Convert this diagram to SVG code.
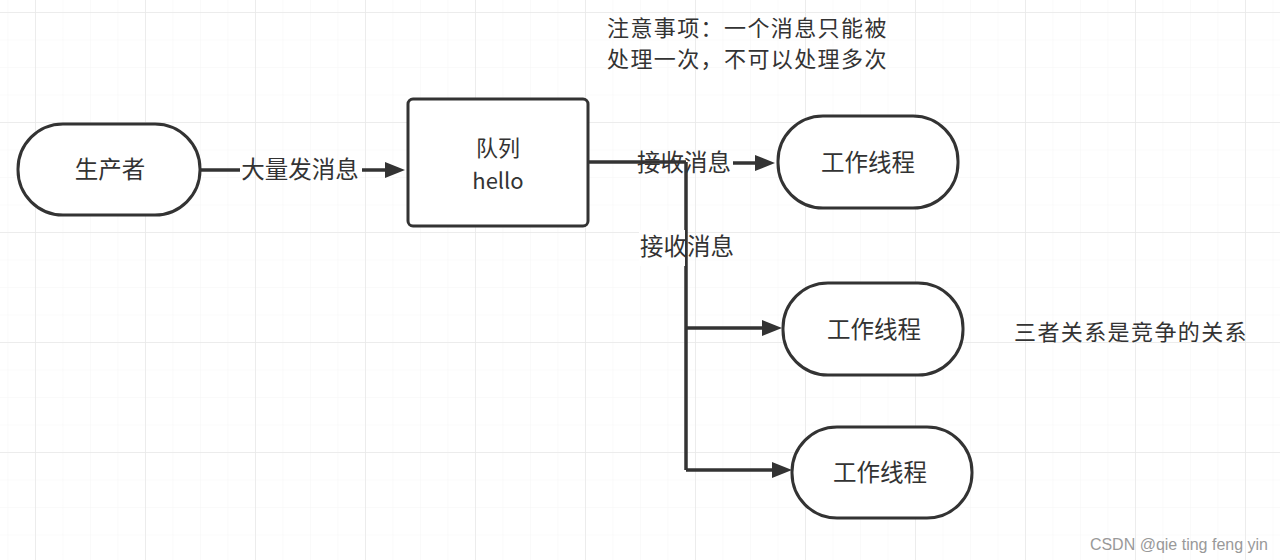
<svg xmlns="http://www.w3.org/2000/svg" width="1280" height="560" viewBox="0 0 1280 560">
<style>
.node{fill:#fff;stroke:#333;stroke-width:3}
.t{font-family:"Noto Sans CJK SC","Liberation Sans",sans-serif;font-size:23.5px;fill:#333;text-anchor:middle}
.q{font-size:22px}
.lbl{font-family:"Noto Sans CJK SC","Liberation Sans",sans-serif;font-size:22px;letter-spacing:1.4px;fill:#333}
.c{fill:none;stroke:#333;stroke-width:3.5}
.minor{stroke:#f5f5f5;stroke-width:1}
.major{stroke:#e8e8e8;stroke-width:1.5}
</style>
<defs>
<pattern id="gmin" x="35" y="12" width="27.5" height="27.5" patternUnits="userSpaceOnUse">
<path d="M0 0H27.5M0 0V27.5" class="minor"/>
</pattern>
<pattern id="gmaj" x="35" y="12" width="110" height="110" patternUnits="userSpaceOnUse">
<path d="M0 0H110M0 0V110" class="major"/>
</pattern>
<marker id="ah" viewBox="0 0 20 16" refX="0" refY="8" markerWidth="20" markerHeight="16" markerUnits="userSpaceOnUse" orient="auto">
<path d="M0 0L20 8L0 16z" fill="#333"/>
</marker>
</defs>
<rect width="1280" height="560" fill="#fff"/>
<rect width="1280" height="560" fill="url(#gmin)"/>
<rect width="1280" height="560" fill="url(#gmaj)"/>

<g id="connectors">
<path d="M200 170H240" class="c"/>
<path d="M362 170H385" class="c" marker-end="url(#ah)"/>
<path d="M588 162H686" class="c"/>
<path d="M733 163H755" class="c" marker-end="url(#ah)"/>
<path d="M686 162V470" class="c"/>
<path d="M686 328H762" class="c" marker-end="url(#ah)"/>
<path d="M686 470H772" class="c" marker-end="url(#ah)"/>
<rect x="639" y="230" width="46" height="36" fill="#fff"/>
<text x="300" y="178" class="t">大量发消息</text>
<text x="684" y="171" class="t">接收消息</text>
<text x="687" y="255" class="t">接收消息</text>
</g>

<g id="producer">
<rect x="18" y="124" width="182" height="91" rx="45" class="node"/>
<text x="110" y="178" class="t">生产者</text>
</g>
<g id="queue">
<rect x="408" y="99" width="180" height="127" rx="5" class="node"/>
<text x="498" y="156" class="t q">队列</text>
<text x="498" y="189" class="t q">hello</text>
</g>
<g id="worker1">
<rect x="778" y="116" width="180" height="92" rx="45" class="node"/>
<text x="868" y="171" class="t">工作线程</text>
</g>
<g id="worker2">
<rect x="783" y="283" width="180" height="92" rx="45" class="node"/>
<text x="874" y="338" class="t">工作线程</text>
</g>
<g id="worker3">
<rect x="792" y="427" width="180" height="91" rx="45" class="node"/>
<text x="880" y="481" class="t">工作线程</text>
</g>
<g id="notes">
<text x="607" y="36" class="lbl">注意事项：一个消息只能被</text>
<text x="607" y="67" class="lbl">处理一次，不可以处理多次</text>
<text x="1014" y="340" class="lbl">三者关系是竞争的关系</text>
<text x="1268" y="550" font-family="'Liberation Sans',sans-serif" font-size="16" fill="#999" text-anchor="end">CSDN @qie ting feng yin</text>
</g>
</svg>
